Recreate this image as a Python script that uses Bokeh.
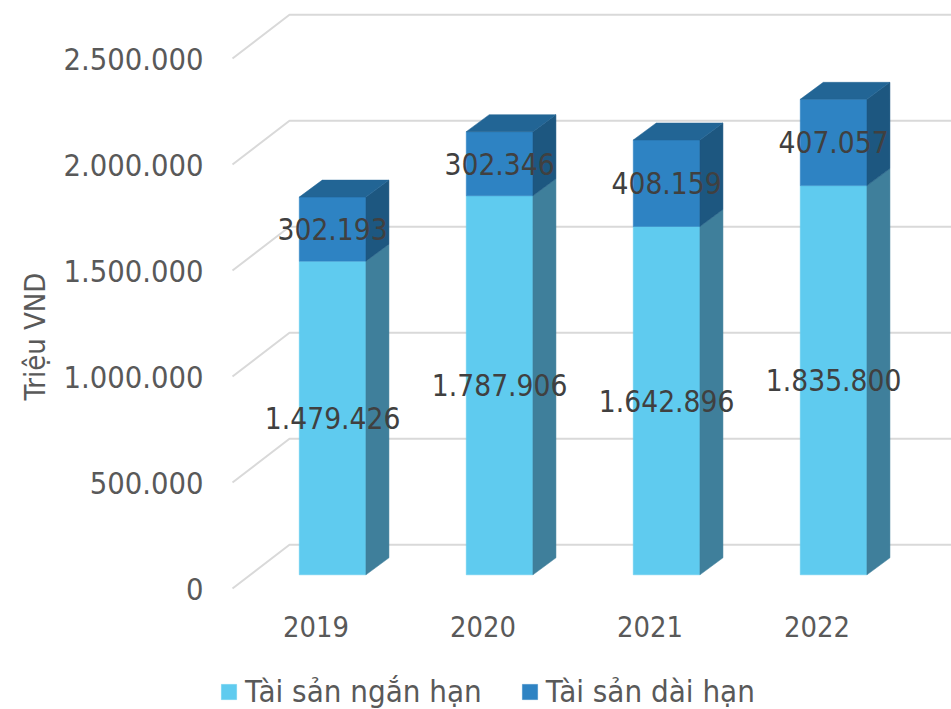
from bokeh.plotting import figure
from bokeh.models import Range1d, FixedTicker, Title, Legend, LegendItem
from bokeh.core.properties import value
from bokeh.embed import file_html
from bokeh.resources import INLINE

years = ["2019", "2020", "2021", "2022"]
short_term = [1479426, 1787906, 1642896, 1835800]
long_term = [302193, 302346, 408159, 407057]
short_labels = ["1.479.426", "1.787.906", "1.642.896", "1.835.800"]
long_labels = ["302.193", "302.346", "408.159", "407.057"]
y_ticks = [0, 500000, 1000000, 1500000, 2000000, 2500000]
y_tick_labels = ["0", "500.000", "1.000.000", "1.500.000", "2.000.000", "2.500.000"]
series_names = ["Tài sản ngắn hạn", "Tài sản dài hạn"]

FONT = "DejaVu Sans Condensed"
# pixel scale of the pseudo-3D projection
PX_X = 167.0            # pixels per category
PX_Y = 106.0 / 500000   # pixels per value
def ux(px): return px / PX_X
def uy(px): return px / PX_Y

W, H = 951, 709
FRAME_L, FRAME_T, FRAME_B = 215, 4, 709   # canvas pixels
WALL_L = 232            # canvas x where the gridlines start
FLOOR = 588.0           # canvas y of value 0 on the front plane
AXIS_Y = 600.0          # canvas y of the category axis

x_start = -0.5
x0 = x_start - ux(WALL_L - FRAME_L)
x1 = x_start + ux(W - WALL_L)
p = figure(width=W, height=H, output_backend="svg", toolbar_location=None,
           x_range=Range1d(x0, x1),
           y_range=Range1d(-uy(FRAME_B - FLOOR), uy(FLOOR - FRAME_T)),
           min_border_left=FRAME_L, min_border_right=0, min_border_top=FRAME_T,
           min_border_bottom=0,
           frame_width=W - FRAME_L, frame_height=FRAME_B - FRAME_T)
p.outline_line_color = None
p.background_fill_color = "white"
p.border_fill_color = "white"
p.grid.visible = False

# gridlines: floor/wall wedge
WALL_DX, WALL_DY = ux(57), uy(43.7)
for v in y_ticks:
    p.line([x_start, x_start + WALL_DX, x1], [v, v + WALL_DY, v + WALL_DY],
           line_color="#D9D9D9", line_width=2)

BAR_W = ux(66.7)
OFF_X, OFF_Y = ux(16.6), uy(13.7)
DEP_X, DEP_Y = ux(23), uy(17)

front_s, side_s, front_l, side_l, top_l = [], [], [], [], []
for i, (a, b) in enumerate(zip(short_term, long_term)):
    l = i - BAR_W / 2 + OFF_X
    r = l + BAR_W
    b0, b1, b2 = OFF_Y, a + OFF_Y, a + b + OFF_Y
    front_s.append(([l, r, r, l], [b0, b0, b1, b1]))
    side_s.append(([r, r + DEP_X, r + DEP_X, r], [b0, b0 + DEP_Y, b1 + DEP_Y, b1]))
    front_l.append(([l, r, r, l], [b1, b1, b2, b2]))
    side_l.append(([r, r + DEP_X, r + DEP_X, r], [b1, b1 + DEP_Y, b2 + DEP_Y, b2]))
    top_l.append(([l, r, r + DEP_X, l + DEP_X], [b2, b2, b2 + DEP_Y, b2 + DEP_Y]))

def draw(parts, color):
    return p.patches([q[0] for q in parts], [q[1] for q in parts],
                     fill_color=color, line_color=color, line_width=0.5)

r_s = draw(front_s, "#5FCBEF")
draw(side_s, "#3F7F9B")
r_l = draw(front_l, "#2E83C3")
draw(side_l, "#1D5780")
draw(top_l, "#226595")

# data labels
lx = [i + OFF_X for i in range(len(years))]
ly_s = [OFF_Y + a / 2 for a in short_term]
ly_l = [OFF_Y + a + b / 2 for a, b in zip(short_term, long_term)]
p.text(lx, ly_s, text=short_labels, text_align="center", text_baseline="middle",
       text_font=value(FONT), text_font_size="29.6px", text_color="#404040")
p.text(lx, ly_l, text=long_labels, text_align="center", text_baseline="middle",
       text_font=value(FONT), text_font_size="29.6px", text_color="#404040")

# axes
xa = p.xaxis[0]
xa.fixed_location = -uy(AXIS_Y - FLOOR)
xa.ticker = FixedTicker(ticks=list(range(len(years))))
xa.major_label_overrides = {i: y for i, y in enumerate(years)}
xa.axis_line_color = None
xa.major_tick_line_color = None
xa.minor_tick_line_color = None
xa.major_tick_in = 0
xa.major_tick_out = 0
xa.major_label_standoff = 15
xa.major_label_text_font = FONT
xa.major_label_text_font_size = "28.8px"
xa.major_label_text_color = "#595959"

ya = p.yaxis[0]
ya.ticker = FixedTicker(ticks=y_ticks)
ya.major_label_overrides = {t: s for t, s in zip(y_ticks, y_tick_labels)}
ya.axis_line_color = None
ya.major_tick_line_color = None
ya.minor_tick_line_color = None
ya.major_tick_in = 0
ya.major_tick_out = 0
ya.major_label_standoff = 12
ya.major_label_text_font = FONT
ya.major_label_text_font_size = "30.6px"
ya.major_label_text_color = "#595959"

p.add_layout(Title(text="Triệu VND", align="left", offset=309, standoff=18,
                   text_font=FONT, text_font_size="29px", text_font_style="normal",
                   text_color="#595959"), "left")

legend = Legend(items=[LegendItem(label=series_names[0], renderers=[r_s]),
                       LegendItem(label=series_names[1], renderers=[r_l])],
                orientation="horizontal", location=(4, 0),
                glyph_width=19, glyph_height=19, label_standoff=7, spacing=38,
                padding=0, margin=0, border_line_color=None,
                background_fill_alpha=0,
                label_text_font=FONT, label_text_font_size="31px",
                label_text_color="#595959")
p.add_layout(legend, "center")

open("out.html", "w").write(file_html(p, INLINE))
